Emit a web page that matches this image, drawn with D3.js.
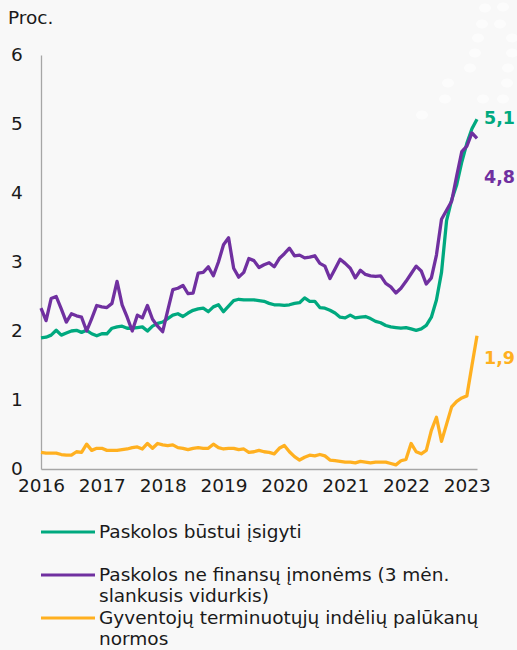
<!DOCTYPE html>
<html>
<head>
<meta charset="utf-8">
<script src="https://cdn.jsdelivr.net/npm/d3@7"></script>
<style>
  body { margin: 0; background: #f8f8f8; }
  svg { display: block; font-family: "DejaVu Sans", Verdana, sans-serif; }
</style>
</head>
<body>
<div id="chart"></div>
<script>
// monthly data, Jan 2016 .. Mar 2023
var startYear = 2016;
var yearTicks = [2016, 2017, 2018, 2019, 2020, 2021, 2022, 2023];
var yTicks = [0, 1, 2, 3, 4, 5, 6];

var housing = [1.90, 1.91, 1.94, 2.01, 1.94, 1.97, 2.00, 2.01, 1.98, 2.01, 1.96, 1.93,
  1.96, 1.96, 2.04, 2.06, 2.07, 2.04, 2.04, 2.05, 2.06, 2.00, 2.07, 2.11,
  2.13, 2.18, 2.23, 2.25, 2.21, 2.26, 2.30, 2.32, 2.33, 2.28, 2.35, 2.38,
  2.28, 2.36, 2.44, 2.46, 2.45, 2.45, 2.45, 2.44, 2.43, 2.40, 2.38, 2.38,
  2.37, 2.38, 2.40, 2.41, 2.48, 2.43, 2.43, 2.34, 2.33, 2.30, 2.26, 2.20,
  2.19, 2.23, 2.19, 2.20, 2.21, 2.18, 2.14, 2.12, 2.08, 2.06, 2.05, 2.04,
  2.05, 2.03, 2.01, 2.03, 2.08, 2.20, 2.45, 2.85, 3.60, 3.90, 4.12, 4.45,
  4.72, 4.93, 5.07];

var business = [2.33, 2.15, 2.47, 2.50, 2.32, 2.13, 2.25, 2.22, 2.20, 2.00, 2.18, 2.37,
  2.35, 2.34, 2.40, 2.72, 2.38, 2.20, 2.00, 2.23, 2.19, 2.37, 2.17, 2.07,
  1.99, 2.30, 2.60, 2.62, 2.66, 2.54, 2.55, 2.84, 2.85, 2.93, 2.80, 3.00,
  3.25, 3.35, 2.91, 2.78, 2.85, 3.05, 3.02, 2.92, 2.96, 2.99, 2.93, 3.05,
  3.12, 3.20, 3.09, 3.10, 3.06, 3.07, 3.09, 2.98, 2.94, 2.76, 2.90, 3.04,
  2.98, 2.91, 2.77, 2.88, 2.82, 2.80, 2.79, 2.80, 2.69, 2.64, 2.55, 2.62,
  2.72, 2.83, 2.94, 2.87, 2.68, 2.77, 3.10, 3.62, 3.75, 3.88, 4.25, 4.60,
  4.68, 4.87, 4.79];

var deposits = [0.24, 0.23, 0.23, 0.23, 0.21, 0.20, 0.20, 0.25, 0.24, 0.36, 0.27, 0.30,
  0.30, 0.27, 0.27, 0.27, 0.28, 0.29, 0.31, 0.32, 0.29, 0.37, 0.30, 0.37,
  0.35, 0.34, 0.35, 0.31, 0.30, 0.28, 0.30, 0.31, 0.30, 0.30, 0.36, 0.31,
  0.29, 0.30, 0.30, 0.28, 0.29, 0.24, 0.25, 0.27, 0.25, 0.24, 0.22, 0.30,
  0.34, 0.25, 0.18, 0.13, 0.17, 0.20, 0.19, 0.21, 0.19, 0.13, 0.12, 0.11,
  0.10, 0.10, 0.09, 0.11, 0.10, 0.09, 0.10, 0.10, 0.10, 0.08, 0.06, 0.12,
  0.14, 0.37, 0.25, 0.22, 0.27, 0.56, 0.75, 0.40, 0.65, 0.90, 0.98, 1.03,
  1.06, 1.50, 1.93];

var seriesNames = ["Paskolos būstui įsigyti",
  "Paskolos ne finansų įmonėms (3 mėn.|slankusis vidurkis)",
  "Gyventojų terminuotųjų indėlių palūkanų|normos"];
var endLabels = ["5,1", "4,8", "1,9"];
var colors = ["#00a97f", "#7030a0", "#ffb020"];

var svgWidth = 517, svgHeight = 650;
var margin = {top: 55, left: 41, right: 40, bottom: 181};
var width = svgWidth - margin.left - margin.right;
var height = svgHeight - margin.top - margin.bottom;
var fontSize = 18.5;

var svg = d3.select("#chart").append("svg")
  .attr("width", svgWidth).attr("height", svgHeight);

svg.append("rect").attr("width", svgWidth).attr("height", svgHeight).attr("fill", "#f8f8f8");

// decorative dots in the corner
var dots = [[485, 8], [503, 7], [482, 24], [500, 24], [478, 38], [512, 38], [475, 53], [512, 53],
  [470, 68], [508, 68], [448, 83], [507, 83], [445, 99], [483, 99], [503, 99], [422, 115]];
svg.selectAll(".dot").data(dots).enter().append("ellipse")
  .attr("class", "dot")
  .attr("cx", d => d[0]).attr("cy", d => d[1])
  .attr("rx", 6).attr("ry", 4.5)
  .attr("fill", "#ffffff")
  .attr("opacity", 0.6);

var chartGroup = svg.append("g")
  .attr("transform", `translate(${margin.left}, ${margin.top})`);

var n = housing.length;
var xScale = d3.scaleLinear().domain([0, n - 1]).range([0, width]);
var yScale = d3.scaleLinear().domain([0, 6]).range([height, 0]);

// axes
var leftAxis = d3.axisLeft(yScale).tickValues(yTicks).tickFormat(d3.format("d"))
  .tickSize(0).tickPadding(18);
var bottomAxis = d3.axisBottom(xScale)
  .tickValues(yearTicks.map(y => (y - startYear) * 12))
  .tickFormat((d, i) => yearTicks[i])
  .tickSize(0).tickPadding(10);

var yAxisG = chartGroup.append("g").call(leftAxis);
var xAxisG = chartGroup.append("g")
  .attr("transform", `translate(0, ${height})`)
  .call(bottomAxis);

[yAxisG, xAxisG].forEach(function(g) {
  g.select(".domain").attr("stroke", "#a6a6a6").attr("stroke-width", 1.3);
  g.selectAll("text").attr("font-size", fontSize).attr("fill", "#1a1a1a")
    .attr("font-family", "DejaVu Sans, Verdana, sans-serif");
});
yAxisG.selectAll("text").attr("text-anchor", "middle").attr("dx", "-6");

// lines
var line = d3.line()
  .x((d, i) => xScale(i))
  .y(d => yScale(d));

var allSeries = [deposits, housing, business];
var order = [2, 0, 1];
allSeries.forEach(function(s, k) {
  chartGroup.append("path")
    .datum(s)
    .attr("fill", "none")
    .attr("stroke", colors[order[k]])
    .attr("stroke-width", 3.3)
    .attr("stroke-linejoin", "round")
    .attr("d", line);
});

// end labels
var labelVals = [5.1, 4.8, 1.9];
var labelOffsets = [0, -0.55, -0.27];
labelVals.forEach(function(v, k) {
  chartGroup.append("text")
    .attr("x", width + 7)
    .attr("y", yScale(v + labelOffsets[k]) + 7)
    .attr("fill", colors[k])
    .attr("font-size", 17.5)
    .attr("font-weight", "bold")
    .text(endLabels[k]);
});

// y unit
svg.append("text")
  .attr("x", 8).attr("y", 24)
  .attr("font-size", fontSize).attr("fill", "#1a1a1a")
  .text("Proc.");

// legend
var legendY = [532, 575, 618];
var legend = svg.append("g");
seriesNames.forEach(function(name, k) {
  legend.append("line")
    .attr("x1", 41).attr("x2", 95)
    .attr("y1", legendY[k]).attr("y2", legendY[k])
    .attr("stroke", colors[k]).attr("stroke-width", 3);
  var t = legend.append("text")
    .attr("x", 99).attr("y", legendY[k] + 6)
    .attr("font-size", fontSize).attr("fill", "#1a1a1a");
  name.split("|").forEach(function(part, j) {
    t.append("tspan").attr("x", 99).attr("dy", j ? 21 : 0).text(part);
  });
});
</script>
</body>
</html>
